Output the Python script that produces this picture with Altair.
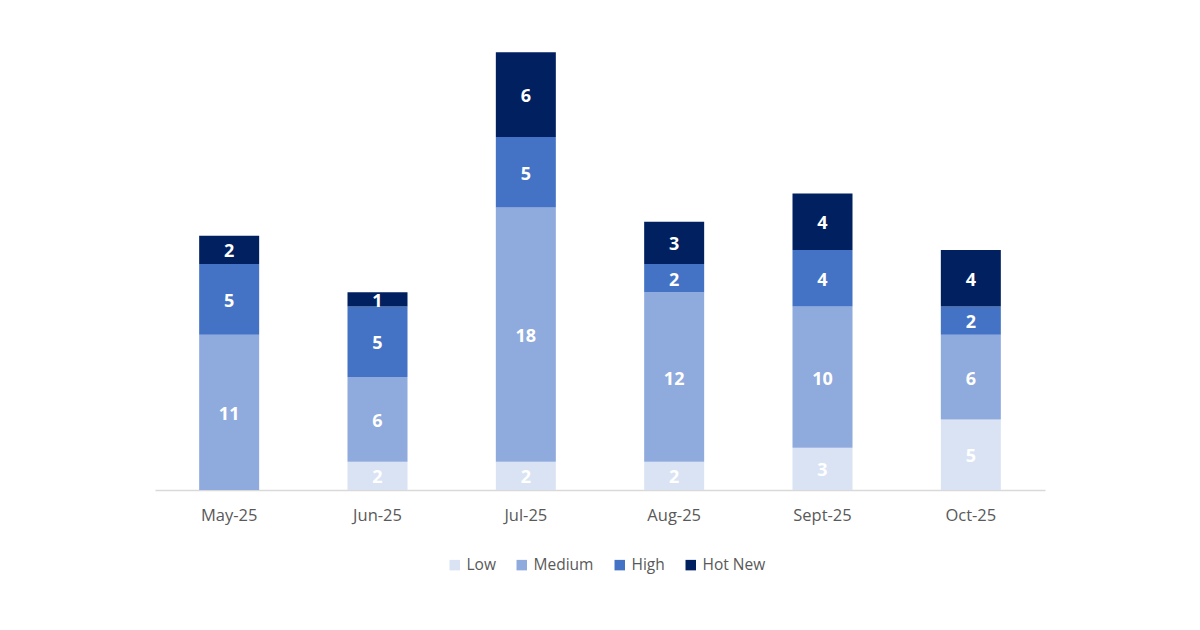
import altair as alt
import pandas as pd

months = ["May-25", "Jun-25", "Jul-25", "Aug-25", "Sept-25", "Oct-25"]
series = ["Low", "Medium", "High", "Hot New"]
low = [0, 2, 2, 2, 3, 5]
medium = [11, 6, 18, 12, 10, 6]
high = [5, 5, 5, 2, 4, 2]
hot_new = [2, 1, 6, 3, 4, 4]
colors = ["#DAE3F3", "#8FAADC", "#4472C4", "#002060"]

rows = []
for si, (name, vals) in enumerate(zip(series, [low, medium, high, hot_new])):
    for m, v in zip(months, vals):
        rows.append({"month": m, "series": name, "order": si, "value": v})
df = pd.DataFrame(rows)

x = alt.X("month:N", sort=months, title=None,
          axis=alt.Axis(labelAngle=0, ticks=False, domainColor="#D9D9D9", domainWidth=1.5,
                        labelColor="#595959", labelFontSize=16.5, labelFont="Open Sans",
                        labelPadding=17))

base = alt.Chart(df).transform_stack(
    stack="value", groupby=["month"], as_=["y0", "y1"],
    sort=[alt.SortField("order", order="ascending")]
).transform_calculate(mid="(datum.y0 + datum.y1) / 2")

yscale = alt.Scale(domain=[0, 32], nice=False)

bars = base.mark_bar(size=60).encode(
    x=x,
    y=alt.Y("y0:Q", scale=yscale, axis=None),
    y2="y1:Q",
    color=alt.Color("series:N", sort=series,
                    scale=alt.Scale(domain=series, range=colors),
                    legend=alt.Legend(title=None, orient="none", direction="horizontal",
                                      legendX=292, legendY=519,
                                      symbolType="square", symbolSize=110, symbolStrokeWidth=0,
                                      labelFont="Open Sans", labelFontSize=15.5, labelColor="#595959",
                                      columnPadding=18, labelOffset=4)),
)

labels = base.transform_filter("datum.value > 0").mark_text(
    color="white", font="Open Sans", fontWeight="bold", fontSize=18, dy=2.5
).encode(
    x=alt.X("month:N", sort=months),
    y=alt.Y("mid:Q", scale=yscale),
    text="value:Q",
)

chart = alt.layer(bars, labels).properties(
    width=890, height=452,
    padding={"left": 147, "top": 30, "right": 5, "bottom": 5},
).configure_view(stroke=None)

chart.save("out.html", embed_options={"renderer": "svg", "actions": False})
